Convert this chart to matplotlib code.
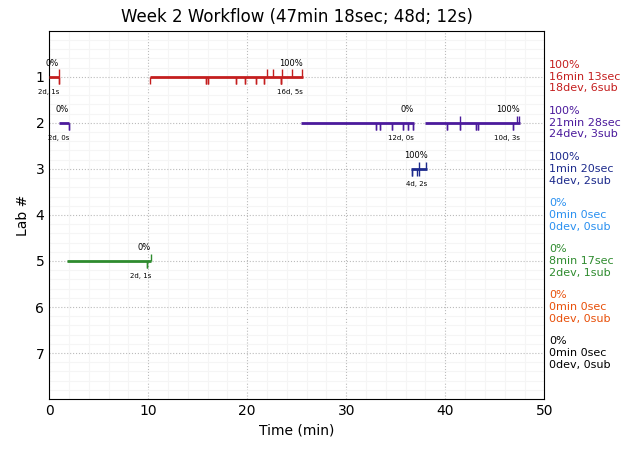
import numpy as np
import matplotlib.pyplot as plt
from matplotlib.ticker import MultipleLocator

labs = [1, 2, 3, 4, 5, 6, 7]
colors = ['#c41e1e', '#4b1a9c', '#1c2a8c', '#2a90f0', '#2e8b2e', '#e8500a', '#000000']

# work segments per lab: (start, end, percent label, summary label)
segments = {
    1: [(0.0, 1.0, '0%', '2d, 1s'), (10.2, 25.6, '100%', '16d, 5s')],
    2: [(1.0, 2.0, '0%', '2d, 0s'), (25.4, 36.8, '0%', '12d, 0s'), (38.0, 47.5, '100%', '10d, 3s')],
    3: [(36.5, 38.2, '100%', '4d, 2s')],
    5: [(1.8, 10.3, '0%', '2d, 1s')],
}

# dev runs (ticks below) and submissions (ticks above), in minutes
devs = {
    1: [1.0, 1.0, 10.2, 15.8, 16.05, 18.9, 18.9, 19.75, 19.75, 20.85, 20.85,
        21.7, 21.7, 23.4, 23.4, 23.4, 16.05, 15.8],
    2: [2.0, 2.0, 33.05, 33.4, 34.65, 35.75, 36.2, 36.7, 33.05, 33.4, 34.65,
        35.75, 36.2, 36.7, 40.15, 41.5, 43.15, 43.35, 46.8, 40.15, 41.5, 43.15,
        43.35, 46.8],
    3: [36.65, 37.15, 37.3, 36.65],
    5: [9.9, 9.9],
}
subs = {
    1: [1.0, 21.95, 22.6, 23.55, 24.55, 25.55],
    2: [41.5, 47.2, 47.45],
    3: [37.3, 38.1],
    5: [10.25],
}

summary = [
    ('100%', '16min 13sec', '18dev, 6sub'),
    ('100%', '21min 28sec', '24dev, 3sub'),
    ('100%', '1min 20sec', '4dev, 2sub'),
    ('0%', '0min 0sec', '0dev, 0sub'),
    ('0%', '8min 17sec', '2dev, 1sub'),
    ('0%', '0min 0sec', '0dev, 0sub'),
    ('0%', '0min 0sec', '0dev, 0sub'),
]

fig = plt.figure(figsize=(6.3, 4.53), dpi=100)
ax = fig.add_axes([0.078, 0.119, 0.786, 0.813])

tick_h = 0.16
for lab, col in zip(labs, colors):
    for (s, e, pct, info) in segments.get(lab, []):
        ax.plot([s, e], [lab, lab], color=col, lw=2, solid_capstyle='butt', zorder=3)
        ax.text(e, lab - 0.19, pct, ha='right', va='bottom', fontsize=6)
        ax.text(e, lab + 0.27, info, ha='right', va='top', fontsize=5)
    d = devs.get(lab, [])
    ax.vlines(d, [lab] * len(d), [lab + tick_h] * len(d), color=col, lw=1, zorder=3)
    sb = subs.get(lab, [])
    ax.vlines(sb, [lab - tick_h] * len(sb), [lab] * len(sb), color=col, lw=1, zorder=3)

for lab, col, (a, b, c) in zip(labs, colors, summary):
    ax.annotate(a + '\n' + b + '\n' + c, xy=(1.01, lab), xycoords=('axes fraction', 'data'),
                ha='left', va='center', color=col, fontsize=8,
                annotation_clip=False)

ax.set_xlim(0, 50)
ax.set_ylim(8, 0)
ax.set_yticks(labs)
ax.set_xticks(np.arange(0, 51, 10))
ax.xaxis.set_minor_locator(MultipleLocator(2))
ax.yaxis.set_minor_locator(MultipleLocator(0.2))
ax.grid(which='major', color='#bbbbbb', ls=':', lw=0.8)
ax.grid(which='minor', color='#f5f5f5', ls='-', lw=0.8)
ax.set_axisbelow(True)
ax.tick_params(which='both', length=0)
ax.set_xlabel('Time (min)')
ax.set_ylabel('Lab #')
ax.set_title('Week 2 Workflow (47min 18sec; 48d; 12s)')

plt.savefig('out.png', dpi=100)
